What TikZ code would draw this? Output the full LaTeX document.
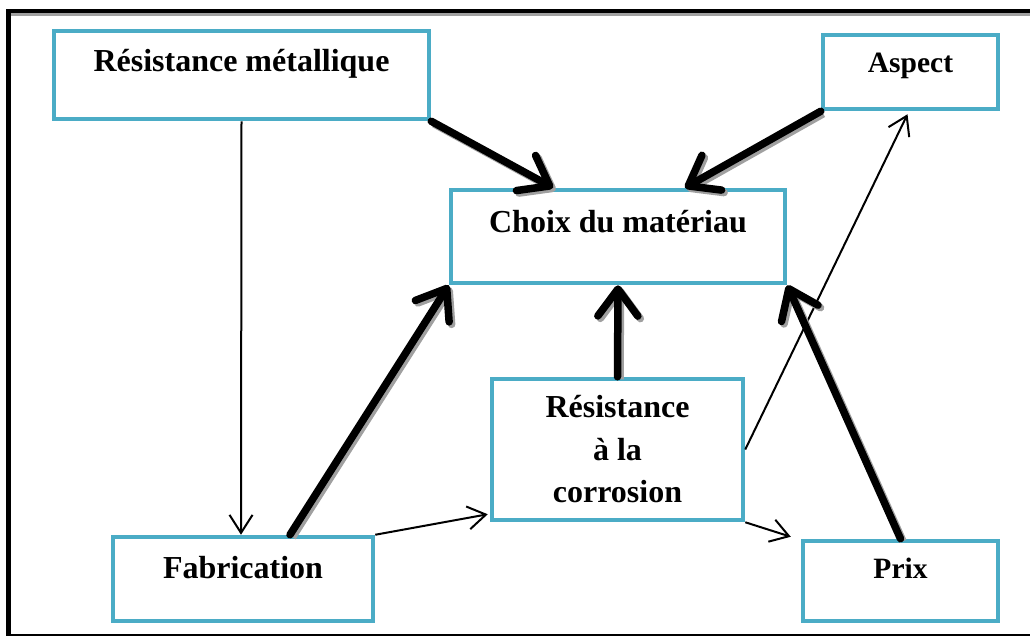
\documentclass[tikz,border=0pt]{standalone}
\usepackage{fontspec}
\setmainfont{Liberation Serif}
\usetikzlibrary{arrows.meta}
\definecolor{boxblue}{HTML}{4BACC6}
\definecolor{shadowgray}{HTML}{A0A0A0}
\begin{document}
\begin{tikzpicture}[x=1pt,y=-1pt,
  box/.style={draw=boxblue, line width=4.5pt, rectangle, inner sep=0pt, fill=white,
    font=\bfseries\fontsize{32}{42.5}\selectfont, align=center},
  smallbox/.style={box, font=\bfseries\fontsize{29.5}{34}\selectfont},
  bigarrow/.style={line width=7.5pt, line cap=round,
    -{Straight Barb[length=27pt,width=40pt,round]},
    preaction={draw=shadowgray, line width=7.5pt, transform canvas={shift={(2.5pt,-2.5pt)}}}},
  smallarrow/.style={line width=2pt, -{Straight Barb[length=18pt,width=23pt]}}
]
\useasboundingbox (0,0) rectangle (1030,637);
% frame
\draw[shadowgray, line width=3pt] (8,14.5) -- (1030,14.5);
\draw[line width=4.5pt] (6,11) -- (1030,11);
\draw[line width=5pt] (8.5,9) -- (8.5,636);
\draw[line width=1.8pt] (6,635) -- (1030,635);
% nodes
\node[box, minimum width=375pt, minimum height=88pt, text height=22pt, text depth=30pt] (rm) at (241.5,75) {Résistance métallique};
\node[box, minimum width=334pt, minimum height=93pt, text height=22pt, text depth=31pt] (choix) at (618,236.5) {Choix du matériau};
\node[smallbox, minimum width=175pt, minimum height=74pt, text height=19pt, text depth=18pt] (aspect) at (910.5,72) {Aspect};
\node[box, minimum width=260pt, minimum height=84pt, text height=22pt, text depth=24pt] (fab) at (243,579) {Fabrication};
\node[box, minimum width=251pt, minimum height=141pt] (corr) at (617.5,449.5) {Résistance\\à la\\corrosion};
\node[smallbox, minimum width=195pt, minimum height=80pt, text height=19pt, text depth=25pt] (prix) at (900.5,581) {Prix};
% thin connectors
\draw[smallarrow] (rm.south) -- ([xshift=-2pt]fab.north);
\draw[smallarrow] (fab.north east) -- ([xshift=-2pt,yshift=8pt]corr.south west);
\draw[smallarrow] (corr.south east) -- ([xshift=-10pt,yshift=2pt]prix.north west);
\draw[smallarrow] (corr.east) -- ([xshift=-3pt,yshift=-3pt]aspect.south);
% thick connectors
\draw[bigarrow] (rm.south east) -- ([xshift=-65pt]choix.north);
\draw[bigarrow] (aspect.south west) -- ([xshift=67pt]choix.north);
\draw[bigarrow] ([xshift=47pt]fab.north) -- (choix.south west);
\draw[bigarrow] (corr.north) -- (choix.south);
\draw[bigarrow] (prix.north) -- (choix.south east);
\end{tikzpicture}
\end{document}
